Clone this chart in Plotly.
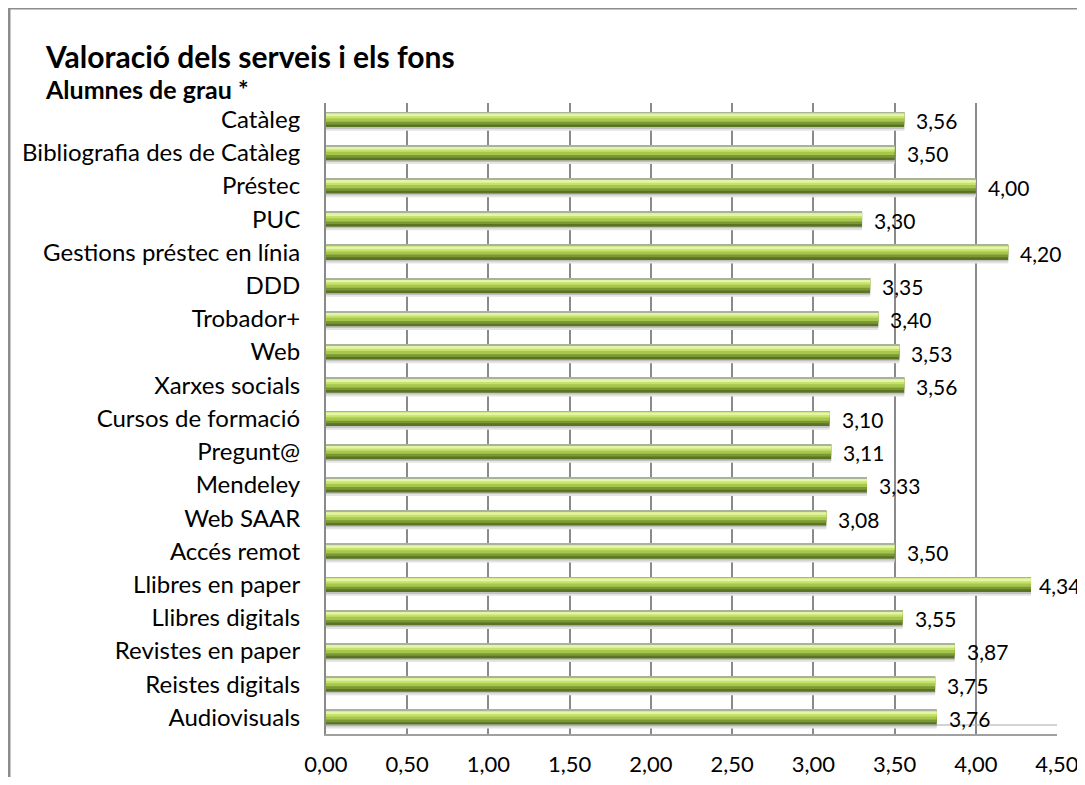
import plotly.graph_objects as go

categories = ["Catàleg", "Bibliografia des de Catàleg", "Préstec", "PUC",
              "Gestions préstec en línia", "DDD", "Trobador+", "Web",
              "Xarxes socials", "Cursos de formació", "Pregunt@", "Mendeley",
              "Web SAAR", "Accés remot", "Llibres en paper", "Llibres digitals",
              "Revistes en paper", "Reistes digitals", "Audiovisuals"]
values = [3.56, 3.50, 4.00, 3.30, 4.20, 3.35, 3.40, 3.53, 3.56, 3.10,
          3.11, 3.33, 3.08, 3.50, 4.34, 3.55, 3.87, 3.75, 3.76]
tick_vals = [0, 0.5, 1, 1.5, 2, 2.5, 3, 3.5, 4, 4.5]

title = "Valoració dels serveis i els fons"
subtitle = "Alumnes de grau *"

FONT = "Lato"
O = 8  # page body margin
W, H = 1085 - O, 785 - 2 * O
# plot area in window pixels: x 326..1057, y 103..734
L = 326 - O
T = 103 - O
R = W - (1057 - O)
B = H - (734 - O)
pw, ph = W - L - R, H - T - B

def px_x(x):
    return (x - O - L) / pw

def px_y(y):
    return (H - B - (y - O)) / ph

fig = go.Figure()

# layered bars to imitate the cylindrical gradient (reversed axis: +offset = down)
layers = [
    ("#e4e4e4", 0.225, 0.11),   # soft shadow
    ("#c2c2c2", 0.225, 0.05),   # shadow
    ("#5a7424", -0.225, 0.45),  # dark base
    ("#7a9834", -0.225, 0.37),
    ("#a6c64c", -0.225, 0.29),
    ("#c6e16c", -0.20, 0.17),
    ("#e4f5a6", -0.18, 0.08),   # highlight
    ("#a9b29a", -0.225, 0.025), # top edge
]
for color, off, wd in layers:
    fig.add_trace(go.Bar(
        x=values, y=categories, orientation="h",
        marker=dict(color=color, line=dict(width=0)),
        offset=off, width=wd, hoverinfo="skip", showlegend=False,
    ))

fig.update_layout(barmode="overlay")

for c, v in zip(categories, values):
    fig.add_annotation(x=v, y=c, xref="x", yref="y",
                       text=f"{v:.2f}".replace(".", ","),
                       showarrow=False, xanchor="left",
                       xshift=10 if v < 4.3 else 6, yshift=-1,
                       font=dict(family=FONT, size=21, color="#000000"))

fig.add_annotation(x=px_x(43), y=px_y(56), xref="paper", yref="paper",
                   text=f"<b>{title}</b>", showarrow=False,
                   xanchor="left", yanchor="middle",
                   font=dict(family=FONT, size=30, color="#000000"))
fig.add_annotation(x=px_x(43), y=px_y(89), xref="paper", yref="paper",
                   text=f"<b>{subtitle}</b>", showarrow=False,
                   xanchor="left", yanchor="middle",
                   font=dict(family=FONT, size=25, color="#000000"))

# outer chart border (extends beyond the visible window)
fig.add_shape(type="rect", xref="paper", yref="paper",
              x0=px_x(9), x1=px_x(1400), y0=px_y(1100), y1=px_y(8),
              line=dict(color="#8c8c8c", width=3), fillcolor="rgba(0,0,0,0)",
              layer="above")
# floor edge line
fig.add_shape(type="line", xref="paper", yref="paper",
              x0=0, x1=1, y0=px_y(725), y1=px_y(725),
              line=dict(color="#a8a8a8", width=1))

fig.update_xaxes(range=[0, 4.5], tickvals=tick_vals, tickformat=".2f",
                 showgrid=True, gridcolor="#8a8a8a", gridwidth=1.5,
                 showline=True, linecolor="#a0a0a0", linewidth=1.5,
                 zeroline=False, ticks="", ticklabelstandoff=10,
                 tickfont=dict(family=FONT, size=22, color="#000000"))
fig.update_yaxes(autorange="reversed", showgrid=False,
                 showline=True, linecolor="#8a8a8a", linewidth=2,
                 ticks="", ticklabelstandoff=19,
                 tickfont=dict(family=FONT, size=24, color="#000000"))

fig.update_layout(width=W, height=H, separators=",.",
                  margin=dict(l=L, r=R, t=T, b=B, autoexpand=False),
                  plot_bgcolor="white", paper_bgcolor="white",
                  font=dict(family=FONT))

fig.write_html("out.html")
